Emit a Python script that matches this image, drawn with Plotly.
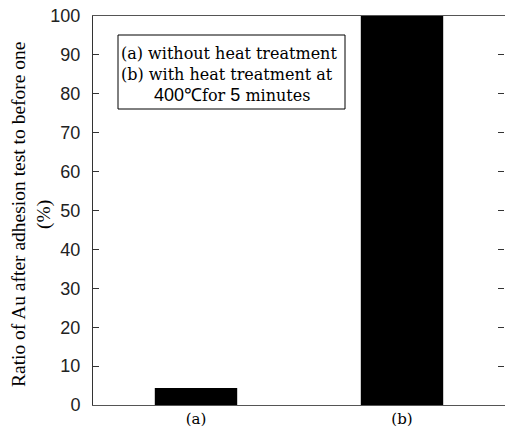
import plotly.graph_objects as go

categories = ["(a)", "(b)"]
values = [4.4, 100]
y_ticks = [0, 10, 20, 30, 40, 50, 60, 70, 80, 90, 100]
y_title = "Ratio of Au after adhesion test to before one<br>(%)"
SANS_SPAN = "<span style='font-family:Liberation Sans;font-size:18px'>{}</span>"
legend_lines = ["(a) without heat treatment", "(b) with heat treatment at",
                SANS_SPAN.format("400℃") + "for " + SANS_SPAN.format("5") + " minutes"]

W, H = 505, 430
L, R, T, B = 93, 0, 16, 25
pw, ph = W - L - R, H - T - B

def px(x):
    return (x - L) / pw

def py(y):
    return (H - B - y) / ph

fig = go.Figure()
fig.add_trace(go.Bar(x=categories, y=values, width=0.4,
                     marker=dict(color="black", line=dict(width=0))))
# empty helper trace so the right-hand tick axis is drawn
fig.add_trace(go.Scatter(x=[], y=[], yaxis="y2", showlegend=False, hoverinfo="skip"))

serif = "'Liberation Serif', 'Times New Roman', serif"
wserif = "'DejaVu Serif', serif"
sans = "'Liberation Sans', Arial, sans-serif"

fig.update_layout(
    width=W, height=H, margin=dict(l=L, r=R, t=T, b=B, autoexpand=False),
    paper_bgcolor="white", plot_bgcolor="white", showlegend=False,
    xaxis=dict(range=[-0.5, 1.5], showline=True, linecolor="#555", linewidth=1,
               mirror=True, ticks="", showgrid=False, zeroline=False,
               automargin=False,
               tickfont=dict(family=wserif, size=15, color="black")),
    yaxis=dict(range=[0, 100], tickvals=y_ticks, showline=True, linecolor="#333",
               linewidth=1, mirror=False, ticks="inside", ticklen=6,
               tickcolor="#333", showgrid=False, zeroline=False,
               ticklabelstandoff=8, automargin=False,
               tickfont=dict(family=sans, size=18, color="#222")),
    yaxis2=dict(range=[0, 100], tickvals=y_ticks, overlaying="y", anchor="free",
                position=0.998, side="right", showline=False, ticks="inside",
                ticklen=6, tickwidth=1, tickcolor="#333", showticklabels=False,
                showgrid=False, zeroline=False, automargin=False),
)

# y-axis title
fig.add_annotation(x=px(31), y=py(215), xref="paper", yref="paper",
                   text=y_title, textangle=-90, showarrow=False,
                   xanchor="center", yanchor="middle",
                   font=dict(family=serif, size=19.5, color="black"))

# legend box
fig.add_shape(type="rect", xref="paper", yref="paper",
              x0=px(118), x1=px(345), y0=py(109), y1=py(35),
              line=dict(color="black", width=1), fillcolor="white")
line_y = [53, 74, 95]
line_x = [119, 119, 152]
for txt, yy, xx in zip(legend_lines, line_y, line_x):
    fig.add_annotation(x=px(xx), y=py(yy), xref="paper", yref="paper",
                       text=txt, showarrow=False, xanchor="left", yanchor="middle",
                       font=dict(family=wserif, size=16, color="black"))

fig.write_html("out.html", config={"displayModeBar": False},
               post_script="document.body.style.margin='0px';")
